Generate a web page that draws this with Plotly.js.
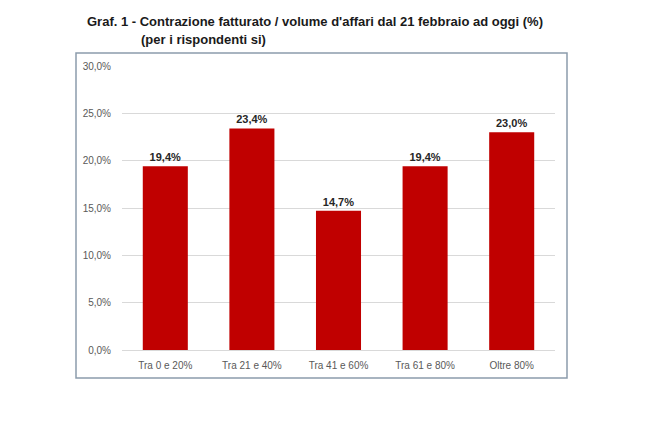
<!DOCTYPE html>
<html>
<head>
<meta charset="utf-8">
<script src="https://cdn.plot.ly/plotly-3.0.1.min.js"></script>
<style>
  html, body { margin: 0; padding: 0; background: #fff; }
  #chart { width: 650px; height: 422px; }
</style>
</head>
<body>
<div id="chart"></div>
<script>
const categories = ["Tra 0 e 20%", "Tra 21 e 40%", "Tra 41 e 60%", "Tra 61 e 80%", "Oltre 80%"];
const values = [19.4, 23.4, 14.7, 19.4, 23.0];
const yTicks = [0, 5, 10, 15, 20, 25, 30];
const yTickLabels = ["0,0%", "5,0%", "10,0%", "15,0%", "20,0%", "25,0%", "30,0%"];

const labelFont = 'Liberation Sans, Arial, sans-serif';

const trace = {
  type: 'bar',
  x: categories,
  y: values,
  marker: { color: '#c00000' },
  texttemplate: '%{y:.1f}%',
  textposition: 'outside',
  textfont: { family: labelFont, size: 11, color: '#262626', weight: 'bold' },
  cliponaxis: false,
  hoverinfo: 'skip'
};

const layout = {
  width: 650,
  height: 422,
  margin: { l: 122, r: 95, t: 66, b: 72 },
  paper_bgcolor: '#fff',
  plot_bgcolor: '#fff',
  separators: ',.',
  showlegend: false,
  bargap: 0.48,
  font: { family: labelFont, color: '#595959' },
  title: {
    text: "Graf. 1 - Contrazione fatturato / volume d'affari dal 21 febbraio ad oggi (%)",
    xref: 'container', yref: 'container',
    x: 315 / 650, y: 1 - 21 / 422,
    xanchor: 'center', yanchor: 'middle',
    font: { family: labelFont, size: 13, color: '#1a1a1a', weight: 'bold' }
  },
  annotations: [{
    text: '(per i rispondenti si)',
    xref: 'paper', yref: 'paper',
    x: (139 - 122) / 433, y: (350 - 40) / 284,
    xanchor: 'left', yanchor: 'middle',
    showarrow: false,
    font: { family: labelFont, size: 13, color: '#1a1a1a', weight: 'bold' }
  }],
  shapes: [{
    type: 'rect',
    xref: 'paper', yref: 'paper',
    x0: (76 - 122) / 433, x1: (567 - 122) / 433,
    y0: (350 - 378) / 284, y1: (350 - 53) / 284,
    line: { color: '#8c9cac', width: 1.5 },
    fillcolor: 'rgba(0,0,0,0)'
  }],
  xaxis: {
    showgrid: false,
    showline: true,
    linecolor: '#d9d9d9',
    ticks: '',
    ticklabelstandoff: 6,
    tickfont: { family: labelFont, size: 10, color: '#595959' }
  },
  yaxis: {
    range: [0, 30],
    tickmode: 'array',
    tickvals: yTicks,
    ticktext: yTickLabels,
    showgrid: true,
    gridcolor: '#d9d9d9',
    zeroline: false,
    ticks: '',
    ticklabelstandoff: 10,
    tickfont: { family: labelFont, size: 10, color: '#595959' }
  }
};

Plotly.newPlot('chart', [trace], layout, { displayModeBar: false, staticPlot: true });
</script>
</body>
</html>
